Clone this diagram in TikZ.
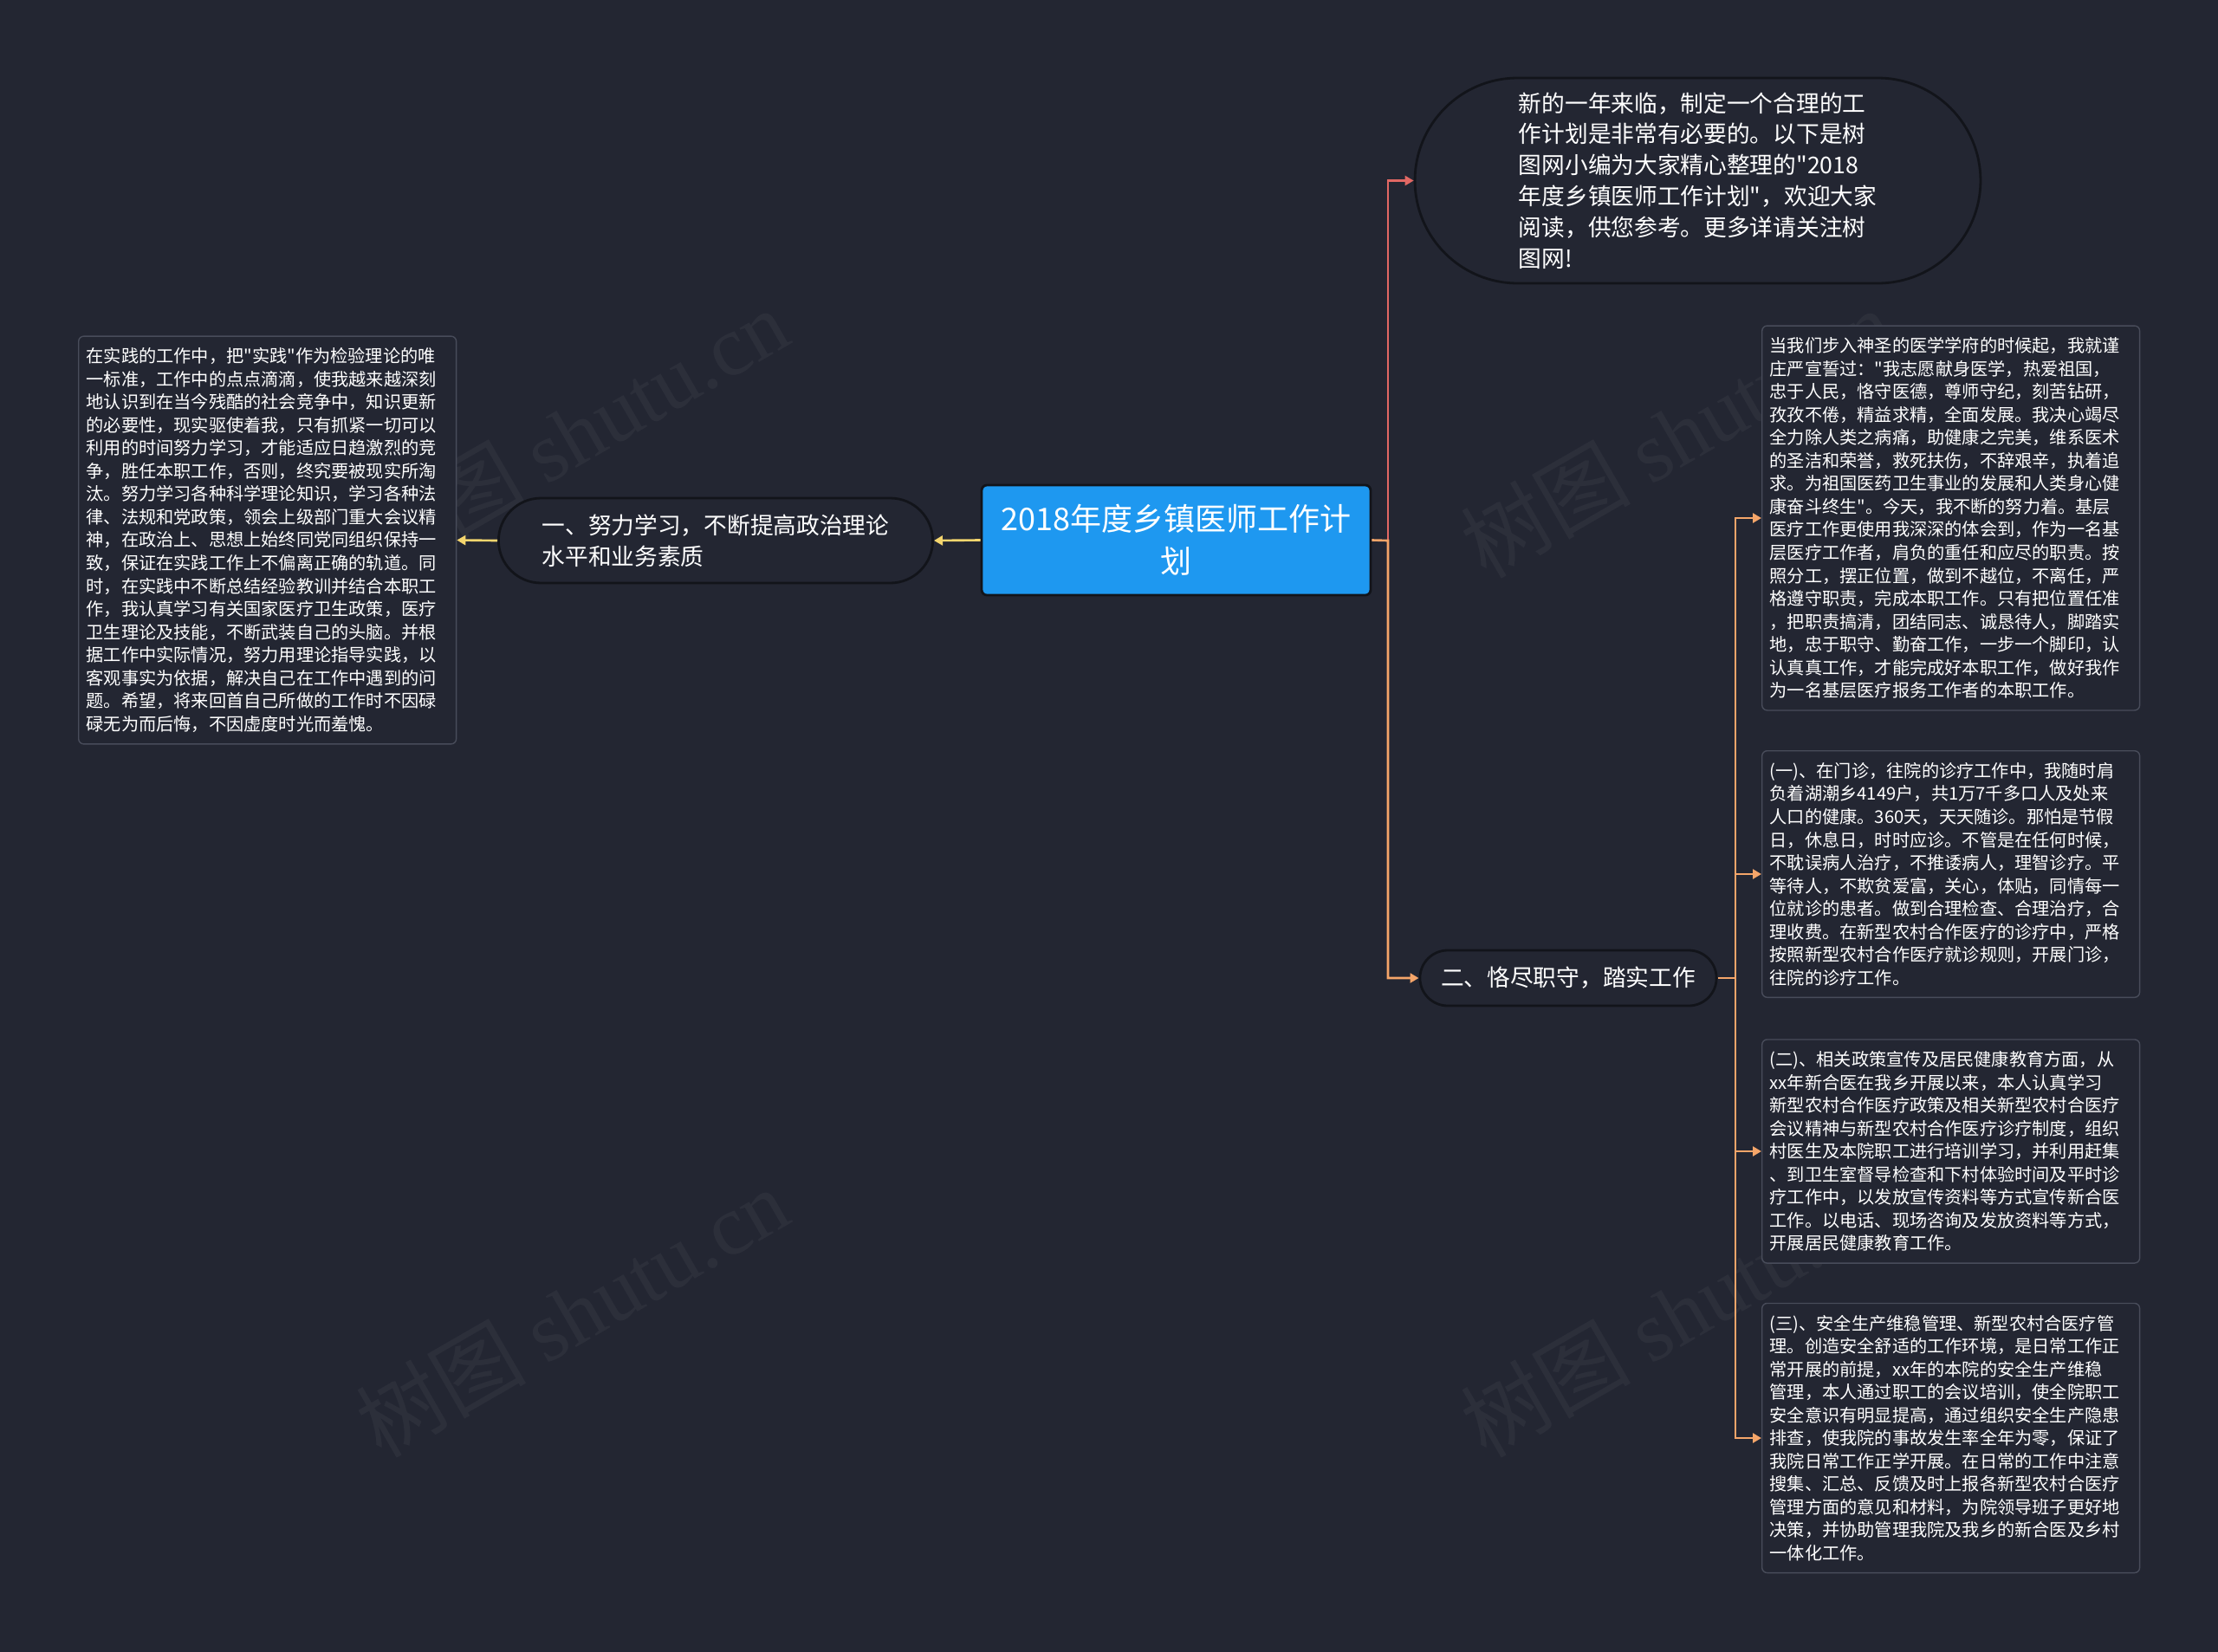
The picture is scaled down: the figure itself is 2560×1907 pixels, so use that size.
\documentclass[tikz,border=0pt]{standalone}
\usepackage{fontspec}
\setmainfont{Noto Sans CJK SC}[Ligatures=TeXOff]
\newfontfamily\wmfont{Liberation Serif}
\usepackage{xcolor}
\definecolor{mapbg}{RGB}{35,38,50}
\definecolor{rootblue}{RGB}{30,152,240}
\definecolor{edgedark}{RGB}{18,20,26}
\definecolor{leafline}{RGB}{72,76,90}
\definecolor{mapyellow}{RGB}{245,214,110}
\definecolor{mapred}{RGB}{226,104,100}
\definecolor{maporange}{RGB}{245,165,105}
\usetikzlibrary{arrows.meta,shapes.misc}
\tikzset{
  root/.style={rectangle, rounded corners=0.12cm, draw=edgedark, line width=1.6pt, fill=rootblue, text=white, align=center, font=\fontsize{20.5}{27.8}\selectfont, minimum width=8.98cm, minimum height=2.54cm},
  pill/.style={rounded rectangle, draw=edgedark, line width=1.6pt, fill=mapbg, text=white, align=left, font=\fontsize{15.2}{20.4}\selectfont},
  leaf/.style={rectangle, draw=leafline, line width=0.8pt, rounded corners=0.12cm, fill=mapbg, text=white, align=left, anchor=west, font=\fontsize{11.5}{15.1}\selectfont, inner xsep=0.18cm, inner ysep=0.27cm, text width=8.36cm},
  link/.style={line width=1.5pt, -{Triangle[length=0.2cm,width=0.22cm]}},
  wmark/.style={text=white, text opacity=0.045, rotate=30, font=\fontsize{56}{56}\selectfont}
}
\begin{document}
\begin{tikzpicture}[x=0.02cm, y=-0.02cm]
\fill[mapbg] (0,0) rectangle (2560,1907);
\useasboundingbox (0,0) rectangle (2560,1907);
\node[wmark] (wm1) at (660,500) {树图 {\wmfont shutu.cn}};
\node[wmark] (wm2) at (1935,500) {树图 {\wmfont shutu.cn}};
\node[wmark] (wm3) at (660,1515) {树图 {\wmfont shutu.cn}};
\node[wmark] (wm4) at (1935,1515) {树图 {\wmfont shutu.cn}};

\node[root] (root) at (1357.5,623.5) {2018年度乡镇医师工作计\\划};
\node[pill, minimum width=10.26cm, minimum height=1.96cm] (study) at (826,624) {一、努力学习，不断提高政治理论\\水平和业务素质};
\node[leaf] (studytxt) at (90,623.5) {在实践的工作中，把"实践"作为检验理论的唯\\一标准，工作中的点点滴滴，使我越来越深刻\\地认识到在当今残酷的社会竞争中，知识更新\\的必要性，现实驱使着我，只有抓紧一切可以\\利用的时间努力学习，才能适应日趋激烈的竞\\争，胜任本职工作，否则，终究要被现实所淘\\汰。努力学习各种科学理论知识，学习各种法\\律、法规和党政策，领会上级部门重大会议精\\神，在政治上、思想上始终同党同组织保持一\\致，保证在实践工作上不偏离正确的轨道。同\\时，在实践中不断总结经验教训并结合本职工\\作，我认真学习有关国家医疗卫生政策，医疗\\卫生理论及技能，不断武装自己的头脑。并根\\据工作中实际情况，努力用理论指导实践，以\\客观事实为依据，解决自己在工作中遇到的问\\题。希望，将来回首自己所做的工作时不因碌\\碌无为而后悔，不因虚度时光而羞愧。};
\node[pill, inner xsep=0pt, minimum width=13.06cm, minimum height=4.74cm] (intro) at (1959.5,208.5) {新的一年来临，制定一个合理的工\\作计划是非常有必要的。以下是树\\图网小编为大家精心整理的"2018\\年度乡镇医师工作计划"，欢迎大家\\阅读，供您参考。更多详请关注树\\图网!};
\node[pill, minimum width=7.08cm, minimum height=1.28cm] (duty) at (1810,1129) {二、恪尽职守，踏实工作};
\node[leaf] (duty1) at (2033,598) {当我们步入神圣的医学学府的时候起，我就谨\\庄严宣誓过："我志愿献身医学，热爱祖国，\\忠于人民，恪守医德，尊师守纪，刻苦钻研，\\孜孜不倦，精益求精，全面发展。我决心竭尽\\全力除人类之病痛，助健康之完美，维系医术\\的圣洁和荣誉，救死扶伤，不辞艰辛，执着追\\求。为祖国医药卫生事业的发展和人类身心健\\康奋斗终生"。今天，我不断的努力着。基层\\医疗工作更使用我深深的体会到，作为一名基\\层医疗工作者，肩负的重任和应尽的职责。按\\照分工，摆正位置，做到不越位，不离任，严\\格遵守职责，完成本职工作。只有把位置任准\\，把职责搞清，团结同志、诚恳待人，脚踏实\\地，忠于职守、勤奋工作，一步一个脚印，认\\认真真工作，才能完成好本职工作，做好我作\\为一名基层医疗报务工作者的本职工作。};
\node[leaf] (duty2) at (2033,1009) {(一)、在门诊，往院的诊疗工作中，我随时肩\\负着湖潮乡4149户，共1万7千多口人及处来\\人口的健康。360天，天天随诊。那怕是节假\\日，休息日，时时应诊。不管是在任何时候，\\不耽误病人治疗，不推诿病人，理智诊疗。平\\等待人，不欺贫爱富，关心，体贴，同情每一\\位就诊的患者。做到合理检查、合理治疗，合\\理收费。在新型农村合作医疗的诊疗中，严格\\按照新型农村合作医疗就诊规则，开展门诊，\\往院的诊疗工作。};
\node[leaf] (duty3) at (2033,1329) {(二)、相关政策宣传及居民健康教育方面，从\\xx年新合医在我乡开展以来，本人认真学习\\新型农村合作医疗政策及相关新型农村合医疗\\会议精神与新型农村合作医疗诊疗制度，组织\\村医生及本院职工进行培训学习，并利用赶集\\、到卫生室督导检查和下村体验时间及平时诊\\疗工作中，以发放宣传资料等方式宣传新合医\\工作。以电话、现场咨询及发放资料等方式，\\开展居民健康教育工作。};
\node[leaf] (duty4) at (2033,1660) {(三)、安全生产维稳管理、新型农村合医疗管\\理。创造安全舒适的工作环境，是日常工作正\\常开展的前提，xx年的本院的安全生产维稳\\管理，本人通过职工的会议培训，使全院职工\\安全意识有明显提高，通过组织安全生产隐患\\排查，使我院的事故发生率全年为零，保证了\\我院日常工作正学开展。在日常的工作中注意\\搜集、汇总、反馈及时上报各新型农村合医疗\\管理方面的意见和材料，为院领导班子更好地\\决策，并协助管理我院及我乡的新合医及乡村\\一体化工作。};

\coordinate (trunk) at (1602,624);
\coordinate (fork) at (2003,1129);
\draw[link, mapyellow] (root.west) -- (study.east);
\draw[link, mapyellow] (study.west) -- (studytxt.east);
\draw[link, mapred] (trunk) |- (intro.west);
\draw[link, maporange] (root.east) -- (trunk) |- (duty.west);
\draw[maporange, line width=1.5pt] (duty.east) -- (fork);
\foreach \leafname in {duty1,duty2,duty3,duty4}
  \draw[link, maporange] (fork) |- (\leafname.west);
\end{tikzpicture}
\end{document}
